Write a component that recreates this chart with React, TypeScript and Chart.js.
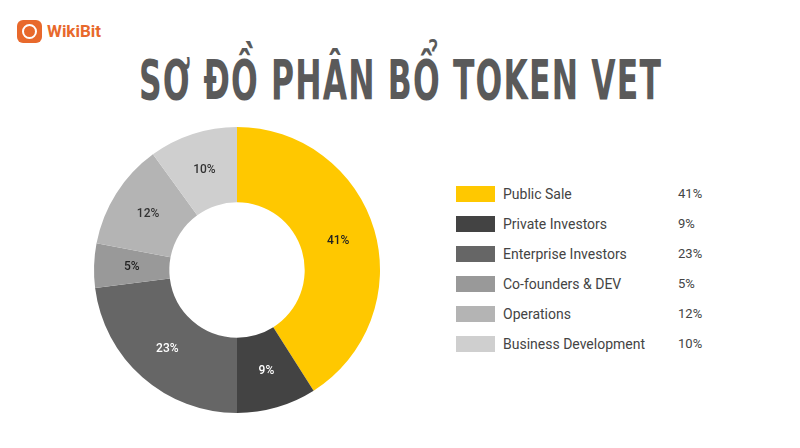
import React, { useEffect, useRef } from "react";
import { Chart, registerables } from "chart.js";

Chart.register(...registerables);

const TITLE = "SƠ ĐỒ PHÂN BỔ TOKEN VET";
const categories = [
  "Public Sale",
  "Private Investors",
  "Enterprise Investors",
  "Co-founders & DEV",
  "Operations",
  "Business Development",
];
const shares = [41, 9, 23, 5, 12, 10];
const colors = ["#FFC800", "#434343", "#666666", "#999999", "#B4B4B4", "#CFCFCF"];
const labelColors = ["#222222", "#FFFFFF", "#FFFFFF", "#222222", "#333333", "#333333"];

const sliceLabels = {
  id: "sliceLabels",
  afterDatasetsDraw(chart: any) {
    const ctx = chart.ctx;
    const meta = chart.getDatasetMeta(0);
    ctx.save();
    ctx.font = "500 12px Roboto, 'Noto Sans', sans-serif";
    ctx.textAlign = "center";
    ctx.textBaseline = "middle";
    meta.data.forEach((arc: any, i: number) => {
      const p = arc.tooltipPosition();
      ctx.fillStyle = labelColors[i];
      ctx.fillText(shares[i] + "%", p.x, p.y);
    });
    ctx.restore();
  },
};

export default function App() {
  const ref = useRef<HTMLCanvasElement>(null);
  const titleRef = useRef<HTMLDivElement>(null);
  useEffect(() => {
    if (titleRef.current) {
      const w = titleRef.current.offsetWidth;
      if (w > 0) titleRef.current.style.transform = `scaleX(${523 / w})`;
    }
    if (!ref.current) return;
    const chart = new Chart(ref.current, {
      type: "doughnut",
      data: {
        labels: categories,
        datasets: [
          {
            data: shares,
            backgroundColor: colors,
            borderWidth: 0,
          },
        ],
      },
      options: {
        responsive: false,
        animation: false,
        radius: 143,
        cutout: 71,
        plugins: { legend: { display: false }, tooltip: { enabled: false } },
        layout: { padding: 0 },
      },
      plugins: [sliceLabels],
    });
    return () => chart.destroy();
  }, []);

  return (
    <div
      style={{
        position: "absolute",
        left: 0,
        top: 0,
        width: 800,
        height: 448,
        background: "#FFFFFF",
        overflow: "hidden",
        fontFamily: "Roboto, 'Noto Sans', sans-serif",
      }}
    >
      {/* Logo */}
      <div
        style={{
          position: "absolute",
          left: 17,
          top: 20,
          width: 25,
          height: 23,
          borderRadius: 6,
          background: "#E8692C",
        }}
      >
        <div
          style={{
            position: "absolute",
            left: 5,
            top: 4,
            width: 11,
            height: 11,
            borderRadius: "50%",
            border: "2.5px solid #fff",
          }}
        />
      </div>
      <div
        style={{
          position: "absolute",
          left: 47,
          top: 20,
          fontSize: 17,
          fontWeight: 700,
          color: "#E8692C",
          lineHeight: "23px",
          fontFamily: "Roboto, sans-serif",
        }}
      >
        WikiBit
      </div>
      {/* Title */}
      <div
        style={{
          position: "absolute",
          left: 139,
          top: 52,
          width: 523,
          height: 56,
        }}
      >
        <div
          ref={titleRef}
          style={{
            display: "inline-block",
            transformOrigin: "0 0",
            fontFamily: "'DejaVu Sans', sans-serif",
            fontWeight: 700,
            fontSize: 55,
            lineHeight: "56px",
            color: "#5A5A5A",
            whiteSpace: "nowrap",
            letterSpacing: 2,
          }}
        >
          {TITLE}
        </div>
      </div>
      {/* Chart */}
      <canvas
        ref={ref}
        width={300}
        height={300}
        style={{ position: "absolute", left: 87, top: 120, width: 300, height: 300 }}
      />
      {/* Legend */}
      {categories.map((c, i) => (
        <div
          key={c}
          style={{
            position: "absolute",
            left: 456,
            top: 186 + i * 30,
            height: 16,
            width: 300,
          }}
        >
          <div
            style={{
              position: "absolute",
              left: 0,
              top: 0,
              width: 39,
              height: 16,
              background: colors[i],
            }}
          />
          <div
            style={{
              position: "absolute",
              left: 47,
              top: -1,
              fontSize: 14,
              lineHeight: "18px",
              color: "#444444",
              whiteSpace: "nowrap",
            }}
          >
            {c}
          </div>
          <div
            style={{
              position: "absolute",
              left: 222,
              top: -1,
              fontSize: 13,
              lineHeight: "18px",
              color: "#444444",
            }}
          >
            {shares[i]}%
          </div>
        </div>
      ))}
    </div>
  );
}
